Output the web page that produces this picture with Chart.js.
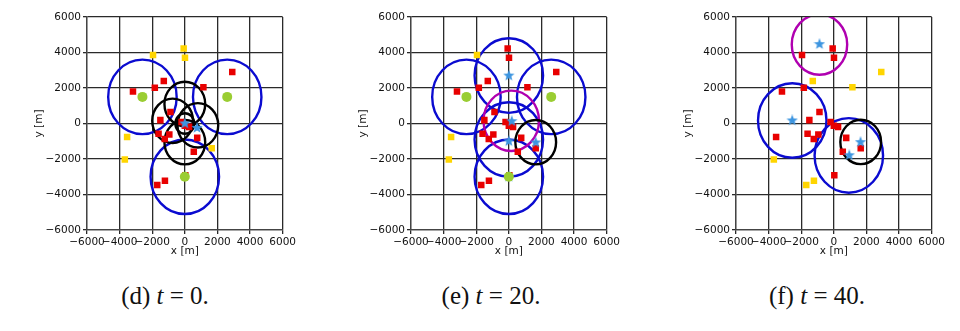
<!DOCTYPE html>
<html>
<head>
<meta charset="utf-8">
<script src="https://cdn.jsdelivr.net/npm/chart.js@4.4.0/dist/chart.umd.min.js"></script>
<style>
body { margin: 0; background: #fff; width: 960px; height: 331px; overflow: hidden; position: relative; }
canvas { position: absolute; top: 0; }
.cap { position: absolute; top: 282px; width: 220px; text-align: center; font-family: "Liberation Serif", "DejaVu Serif", serif; font-size: 25px; line-height: 28px; color: #111; }
</style>
</head>
<body>
<canvas id="c0" width="267" height="258" style="left:31px"></canvas>
<canvas id="c1" width="267" height="258" style="left:355px"></canvas>
<canvas id="c2" width="267" height="258" style="left:680px"></canvas>
<div class="cap" style="left:55px">(d) <i>t</i> = 0.</div>
<div class="cap" style="left:381px">(e) <i>t</i> = 20.</div>
<div class="cap" style="left:707px">(f) <i>t</i> = 40.</div>
<script>
// axis ticks (m)
const ticks = [-6000, -4000, -2000, 0, 2000, 4000, 6000]

// ground nodes (same positions in every snapshot)
const nodeX = [-1950, -70, 10, -3180, -1840, -1290, 1140, 2910, -880, -1500, -3540, -1610, -1230, -950, -200, 0, 260, 760, 550, 1650, 30, -3680, -1690, -1220]
const nodeY = [3860, 4220, 3700, 1800, 2020, 2400, 2040, 2900, 650, 190, -760, -580, -870, -620, 90, -120, -190, -810, -1590, -1400, -2910, -2030, -3470, -3230]

// 1 = covered (red), 0 = not covered (yellow)
const coveredT0 = [0, 0, 0, 1, 1, 1, 1, 1, 1, 1, 0, 1, 1, 1, 1, 1, 1, 1, 1, 0, 1, 0, 1, 1]
const coveredT20 = [0, 1, 1, 1, 1, 1, 1, 1, 1, 1, 0, 1, 1, 1, 1, 1, 1, 1, 1, 1, 1, 0, 1, 1]
const coveredT40 = [1, 1, 1, 1, 1, 0, 0, 0, 1, 1, 1, 1, 1, 1, 1, 1, 1, 1, 1, 1, 1, 0, 0, 0]

// base stations
const bsX = [-2600, 2600, 0]
const bsY = [1500, 1500, -3000]

// UAV positions
const uavT0X = [0, 750]
const uavT0Y = [0, -250]
const uavT20X = [0, 180, 0, 1650, 0]
const uavT20Y = [2700, 130, -1000, -1070, -3000]
const uavT40X = [-880, -2550, 1640, 950]
const uavT40Y = [4470, 170, -1050, -1790]

// coverage circles [x, y, radius] in m
const blueT0 = [[-2600, 1500, 2100], [2600, 1500, 2100], [0, -3000, 2100]]
const blackT0 = [[0, 1100, 1250], [-750, 150, 1250], [800, -100, 1250], [0, -1050, 1250], [0, 0, 580]]
const magentaT0 = []
const blueT20 = [[-2600, 1500, 2100], [2600, 1500, 2100], [0, 2700, 2100], [0, -900, 2100], [0, -3000, 2100]]
const blackT20 = [[1650, -1050, 1250]]
const magentaT20 = [[150, 150, 1700]]
const blueT40 = [[-2550, 170, 2100], [920, -1800, 2100]]
const blackT40 = [[1650, -1040, 1250]]
const magentaT40 = [[-880, 4450, 1700]]

// filled five point star marker
function starImage(size, color) {
	const c = document.createElement('canvas')
	c.width = size; c.height = size
	const g = c.getContext('2d')
	const R = size / 2, r = R * 0.42
	g.fillStyle = color
	g.beginPath()
	for (let i = 0; i < 10; i++) {
		const a = -Math.PI / 2 + i * Math.PI / 5
		const rr = i % 2 ? r : R
		g.lineTo(R + rr * Math.cos(a), R + rr * Math.sin(a))
	}
	g.closePath()
	g.fill()
	return c
}
const star = starImage(12, '#3d95e0')

function circles(groups) {
	return {
		id: 'circles',
		beforeDatasetsDraw(chart) {
			const { ctx, chartArea: a, scales: { x, y } } = chart
			ctx.save()
			ctx.beginPath()
			ctx.rect(a.left, a.top, a.right - a.left, a.bottom - a.top)
			ctx.clip()
			ctx.lineWidth = 2.4
			groups.forEach(g => {
				ctx.strokeStyle = g.color
				g.list.forEach(([cx, cy, r]) => {
					const px = x.getPixelForValue(cx), py = y.getPixelForValue(cy)
					const rx = Math.abs(x.getPixelForValue(cx + r) - px)
					const ry = Math.abs(y.getPixelForValue(cy + r) - py)
					ctx.beginPath()
					ctx.ellipse(px, py, rx, ry, 0, 0, Math.PI * 2)
					ctx.stroke()
				})
			})
			ctx.restore()
		}
	}
}

const pts = (xs, ys) => xs.map((v, i) => ({ x: v, y: ys[i] }))
const pick = (flags, want) => pts(nodeX, nodeY).filter((p, i) => flags[i] === want)
const fmt = v => v < 0 ? '\u2212' + Math.abs(v) : String(v)

function axis(title, isY) {
	return {
		type: 'linear', min: -6000, max: 6000,
		afterBuildTicks: s => { s.ticks = ticks.map(v => ({ value: v })) },
		afterFit: s => { if (isY) s.width = 56; else s.height = 28 },
		ticks: { color: '#111', font: { family: 'DejaVu Sans', size: 10.5 }, padding: 2, autoSkip: false, maxRotation: 0, callback: fmt },
		grid: { color: '#2a2a2a', lineWidth: 1.3, tickLength: 4 },
		border: { color: '#444', width: 1.3 },
		title: { display: true, text: title, color: '#111', font: { family: 'DejaVu Sans', size: 10.5 }, padding: isY ? { top: 2, bottom: 2 } : { top: 0, bottom: 0 } }
	}
}

function draw(id, flags, bs, uavX, uavY, blue, black, magenta) {
	const datasets = [
		{ data: bs ? pts(bsX, bsY) : [], pointStyle: 'circle', radius: 5, backgroundColor: '#9acd32', borderWidth: 0 },
		{ data: pts(uavX, uavY), pointStyle: star, radius: 6 },
		{ data: pick(flags, 0), pointStyle: 'rect', radius: 4.6, backgroundColor: '#ffd500', borderWidth: 0 },
		{ data: pick(flags, 1), pointStyle: 'rect', radius: 4.6, backgroundColor: '#e80000', borderWidth: 0 }
	]
	new Chart(document.getElementById(id), {
		type: 'scatter',
		data: { datasets },
		options: {
			responsive: false, animation: false,
			layout: { padding: { top: 17, right: 14, left: 0, bottom: 0 } },
			plugins: { legend: { display: false }, tooltip: { enabled: false } },
			scales: { x: axis('x [m]', false), y: axis('y [m]', true) }
		},
		plugins: [circles([
			{ color: '#0b0bd0', list: blue },
			{ color: '#b000b0', list: magenta },
			{ color: '#000', list: black }
		])]
	})
}

draw('c0', coveredT0, true, uavT0X, uavT0Y, blueT0, blackT0, magentaT0)
draw('c1', coveredT20, true, uavT20X, uavT20Y, blueT20, blackT20, magentaT20)
draw('c2', coveredT40, false, uavT40X, uavT40Y, blueT40, blackT40, magentaT40)
</script>
</body>
</html>
